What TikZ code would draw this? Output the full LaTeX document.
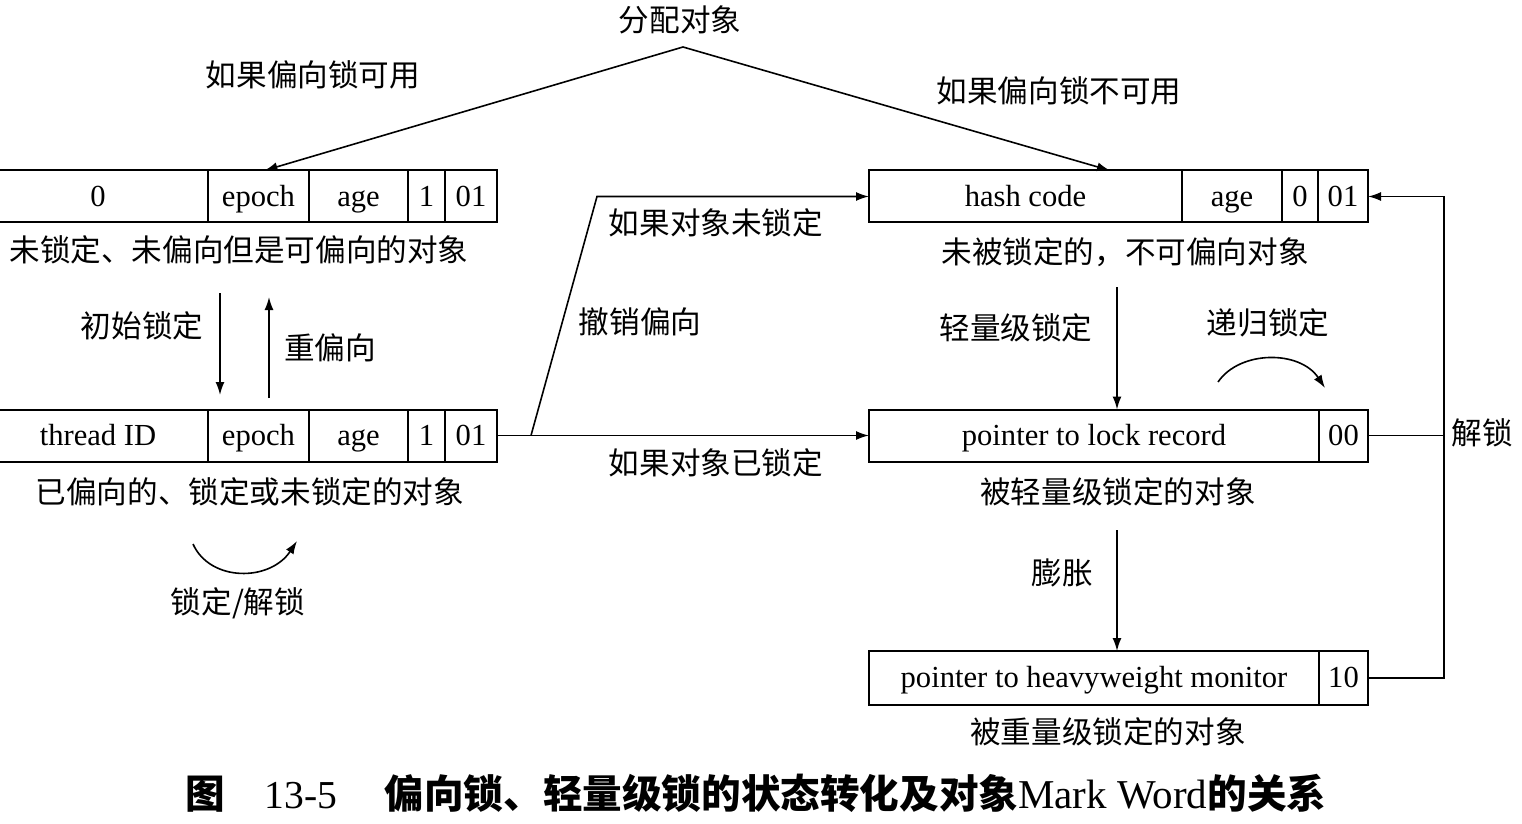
\documentclass[tikz,border=0pt]{standalone}
\usepackage{fontspec}
\setmainfont{Liberation Serif}
\newfontfamily\cjk{Noto Sans CJK SC}
\usetikzlibrary{arrows.meta,positioning}
\tikzset{
  field/.style={draw, line width=1pt, minimum height=26pt, inner sep=0pt, outer sep=0pt,
    text height=12pt, text depth=2.5pt},
  lbl/.style={font=\cjk\fontsize{15.3}{18}\selectfont, inner sep=0pt},
  conn/.style={line width=0.8pt}
}

\begin{document}
\begin{tikzpicture}[x=0.5pt, y=-0.5pt, >={Latex[length=6.5pt,width=4.5pt]}, font=\fontsize{15.3}{18}\selectfont]
    \useasboundingbox (0,0) rectangle (1522,824);

    \node[field, minimum width=110pt, anchor=east] (uz) at (208,196.5) {0};
    \node[field, minimum width=50.5pt, right=0pt of uz] (ue) {epoch};
    \node[field, minimum width=49.5pt, right=0pt of ue] (ua) {age};
    \node[field, minimum width=18.5pt, right=0pt of ua] (ub) {1};
    \node[field, minimum width=26pt, right=0pt of ub] (uf) {01};

    \node[field, minimum width=110pt, anchor=east] (tz) at (208,435.5) {thread ID};
    \node[field, minimum width=50.5pt, right=0pt of tz] (te) {epoch};
    \node[field, minimum width=49.5pt, right=0pt of te] (ta) {age};
    \node[field, minimum width=18.5pt, right=0pt of ta] (tb) {1};
    \node[field, minimum width=26pt, right=0pt of tb] (tf) {01};

    \node[field, minimum width=156.5pt, anchor=west] (hc) at (869,196.5) {hash code};
    \node[field, minimum width=50pt, right=0pt of hc] (ha) {age};
    \node[field, minimum width=18pt, right=0pt of ha] (hb) {0};
    \node[field, minimum width=25pt, right=0pt of hb] (hf) {01};

    \node[field, minimum width=225pt, anchor=west] (lr) at (869,435.5) {pointer to lock record};
    \node[field, minimum width=24.5pt, right=0pt of lr] (lf) {00};

    \node[field, minimum width=225pt, minimum height=27pt, anchor=west] (mp) at (869,678) {pointer to heavyweight monitor};
    \node[field, minimum width=24.5pt, minimum height=27pt, right=0pt of mp] (mf) {10};

    \node[lbl] (alloc) at (680,20) {分配对象};
    \node[lbl] (bok) at (313,75) {如果偏向锁可用};
    \node[lbl] (bno) at (1059,91) {如果偏向锁不可用};
    \node[lbl] (ulab) at (239,250) {未锁定、未偏向但是可偏向的对象};
    \node[lbl] (init) at (142,326) {初始锁定};
    \node[lbl] (rebias) at (330,348) {重偏向};
    \node[lbl] (tlab) at (250,492) {已偏向的、锁定或未锁定的对象};
    \node[lbl] (lockun) at (238,603) {锁定/解锁};
    \node[lbl] (ifun) at (716,223) {如果对象未锁定};
    \node[lbl] (revoke) at (640,322) {撤销偏向};
    \node[lbl] (iflk) at (716,463) {如果对象已锁定};
    \node[lbl] (hlab) at (1125,252) {未被锁定的，不可偏向对象};
    \node[lbl] (light) at (1016,328) {轻量级锁定};
    \node[lbl] (recur) at (1268,323) {递归锁定};
    \node[lbl] (llab) at (1118,492) {被轻量级锁定的对象};
    \node[lbl] (infl) at (1062,573) {膨胀};
    \node[lbl] (mlab) at (1108,732) {被重量级锁定的对象};
    \node[lbl] (unlock) at (1482,433) {解锁};

    \node[anchor=west, inner sep=0pt, font=\fontsize{19.8}{22}\selectfont] (cap) at (185,793)
        {{\cjk\bfseries 图}\hspace{1em}13-5\hspace{1.2em}{\cjk\bfseries 偏向锁、轻量级锁的状态转化及对象}{\fontsize{20.5}{22}\selectfont Mark Word}{\cjk\bfseries 的关系}};

    \coordinate (split) at (683,47);
    \draw[conn,->] (split) -- ([xshift=3pt]ue.north);
    \draw[conn,->] (split) -- ([xshift=-36pt]hc.north east);

    \coordinate (d0) at (220,293);
    \coordinate (d1) at (220,395);
    \coordinate (r0) at (269,398);
    \coordinate (r1) at (269,297);
    \draw[conn,->] (d0) -- (d1);
    \draw[conn,->] (r0) -- (r1);

    \coordinate (l0) at (193,544);
    \coordinate (l1) at (297,541);
    \draw[conn,->] (l0) .. controls (210,582) and (270,582) .. (l1);

    \coordinate (fork) at (531,435.5);
    \coordinate (bend) at (597,196.5);
    \draw[conn,->] (tf.east) -- (lr.west);
    \draw[conn,->] (fork) -- (bend) -- (hc.west);

    \coordinate (lt) at (1117,287);
    \coordinate (it) at (1117,530);
    \draw[conn,->] (lt) -- (lt |- lr.north);
    \draw[conn,->] (it) -- (it |- mp.north);

    \coordinate (c0) at (1218,382);
    \coordinate (c1) at (1325,388);
    \draw[conn,->] (c0) .. controls (1240,350) and (1300,350) .. (c1);

    \coordinate (ret) at (1444,678);
    \draw[conn,->] (mf.east) -- (ret) |- (hf.east);
    \draw[conn] (lf.east) -- (lf.east -| ret);
\end{tikzpicture}
\end{document}
